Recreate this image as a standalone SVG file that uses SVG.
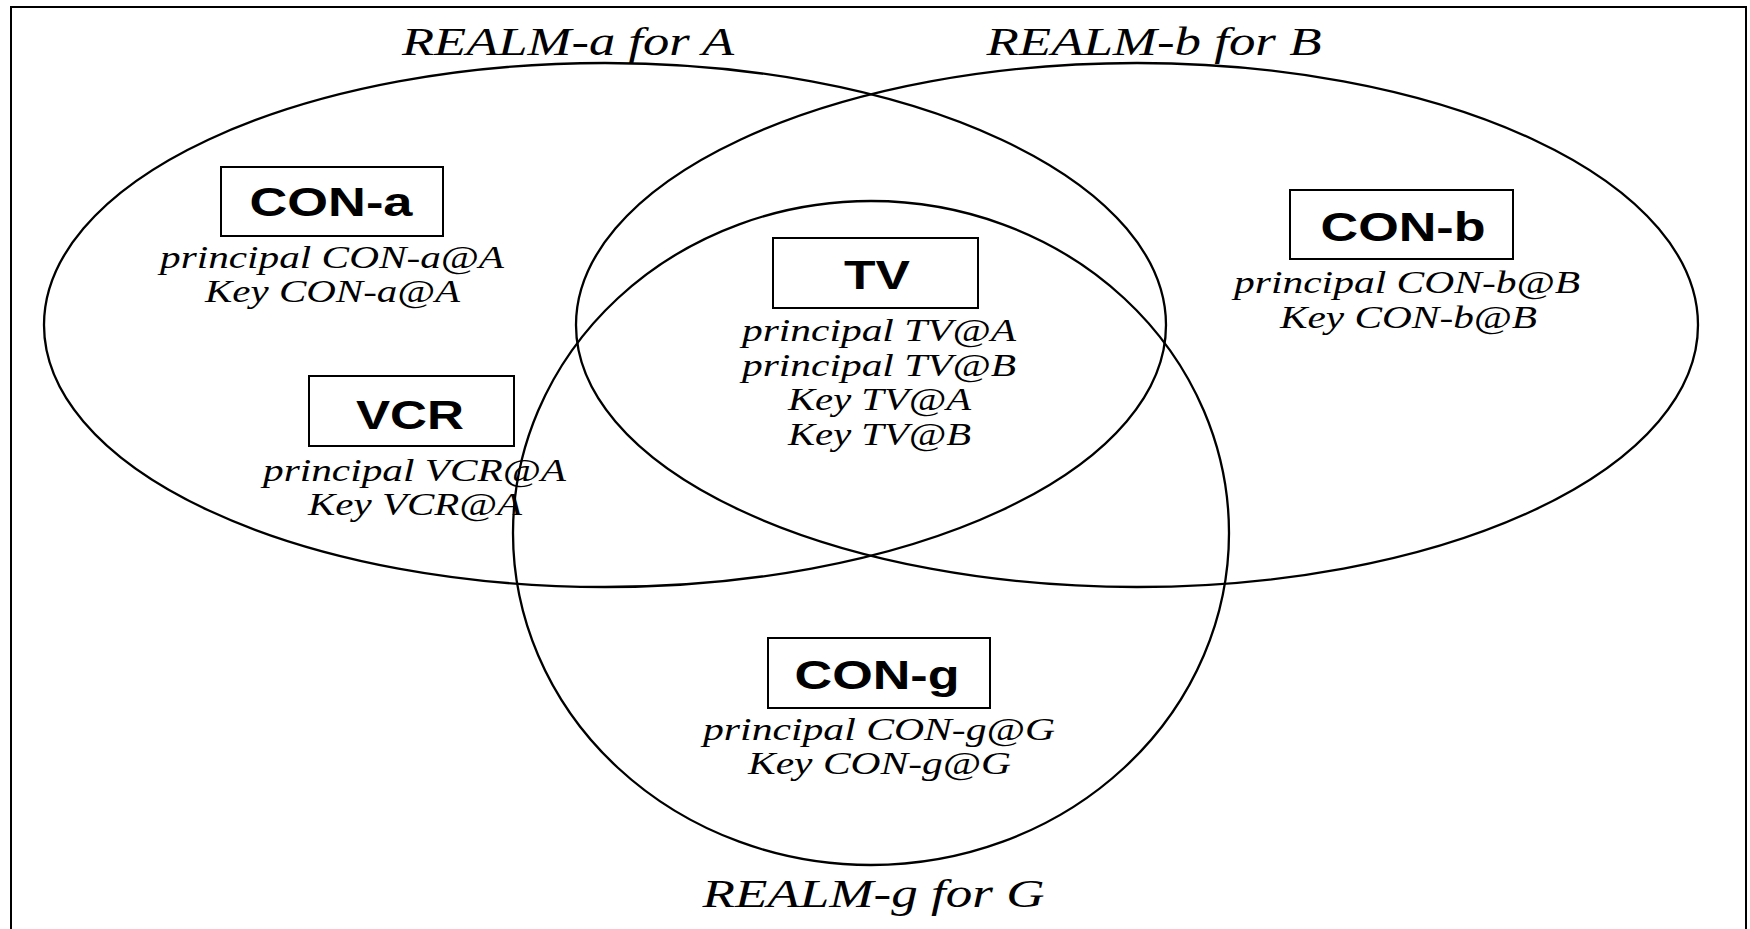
<svg xmlns="http://www.w3.org/2000/svg" width="1750" height="929" viewBox="0 0 1750 929">
  <style>
    .frame { fill: none; stroke: #000; stroke-width: 2; }
    .realm { fill: none; stroke: #000; stroke-width: 2.3; }
    .box { fill: #fff; stroke: #000; stroke-width: 2; }
    .name { font-family: "Liberation Sans", Arial, sans-serif; font-weight: bold; font-size: 40px; text-anchor: middle; fill: #000; }
    .info { font-family: "Liberation Serif", "Times New Roman", serif; font-style: italic; font-size: 31.5px; text-anchor: middle; fill: #000; }
    .title { font-family: "Liberation Serif", "Times New Roman", serif; font-style: italic; font-size: 39px; text-anchor: middle; fill: #000; }
  </style>
  <rect width="1750" height="929" fill="#fff"/>
  <rect class="frame" x="11" y="7" width="1735" height="940"/>

  <g id="realms">
    <g id="realm-a">
      <ellipse class="realm" cx="605" cy="325" rx="561" ry="262"/>
      <text class="title" x="568" y="55" textLength="332" lengthAdjust="spacingAndGlyphs">REALM-a for A</text>
    </g>
    <g id="realm-b">
      <ellipse class="realm" cx="1137" cy="325" rx="561" ry="262"/>
      <text class="title" x="1154" y="55" textLength="335" lengthAdjust="spacingAndGlyphs">REALM-b for B</text>
    </g>
    <g id="realm-g">
      <ellipse class="realm" cx="871" cy="533" rx="358" ry="332"/>
      <text class="title" x="873.5" y="907" textLength="342" lengthAdjust="spacingAndGlyphs">REALM-g for G</text>
    </g>
  </g>

  <g id="connectors"></g>

  <g id="con-a">
    <rect class="box" x="221" y="167" width="222" height="69"/>
    <text class="name" x="331" y="216" textLength="163" lengthAdjust="spacingAndGlyphs">CON-a</text>
    <text class="info" x="332" y="268" textLength="344" lengthAdjust="spacingAndGlyphs">principal CON-a@A</text>
    <text class="info" x="332.5" y="302" textLength="255" lengthAdjust="spacingAndGlyphs">Key CON-a@A</text>
  </g>

  <g id="tv">
    <rect class="box" x="773" y="238" width="205" height="70"/>
    <text class="name" x="877" y="289" textLength="66" lengthAdjust="spacingAndGlyphs">TV</text>
    <text class="info" x="879" y="341" textLength="274" lengthAdjust="spacingAndGlyphs">principal TV@A</text>
    <text class="info" x="879" y="375.5" textLength="274" lengthAdjust="spacingAndGlyphs">principal TV@B</text>
    <text class="info" x="879.5" y="410" textLength="183" lengthAdjust="spacingAndGlyphs">Key TV@A</text>
    <text class="info" x="879.5" y="444.5" textLength="183" lengthAdjust="spacingAndGlyphs">Key TV@B</text>
  </g>

  <g id="con-b">
    <rect class="box" x="1290" y="190" width="223" height="69"/>
    <text class="name" x="1403" y="241" textLength="165" lengthAdjust="spacingAndGlyphs">CON-b</text>
    <text class="info" x="1407" y="293" textLength="346" lengthAdjust="spacingAndGlyphs">principal CON-b@B</text>
    <text class="info" x="1408.5" y="328" textLength="257" lengthAdjust="spacingAndGlyphs">Key CON-b@B</text>
  </g>

  <g id="vcr">
    <rect class="box" x="309" y="376" width="205" height="70"/>
    <text class="name" x="410" y="429" textLength="108" lengthAdjust="spacingAndGlyphs">VCR</text>
    <text class="info" x="414.5" y="481" textLength="303" lengthAdjust="spacingAndGlyphs">principal VCR@A</text>
    <text class="info" x="415" y="515" textLength="214" lengthAdjust="spacingAndGlyphs">Key VCR@A</text>
  </g>

  <g id="con-g">
    <rect class="box" x="768" y="638" width="222" height="70"/>
    <text class="name" x="877" y="689" textLength="165" lengthAdjust="spacingAndGlyphs">CON-g</text>
    <text class="info" x="879" y="740" textLength="352" lengthAdjust="spacingAndGlyphs">principal CON-g@G</text>
    <text class="info" x="879.5" y="774" textLength="263" lengthAdjust="spacingAndGlyphs">Key CON-g@G</text>
  </g>
</svg>
